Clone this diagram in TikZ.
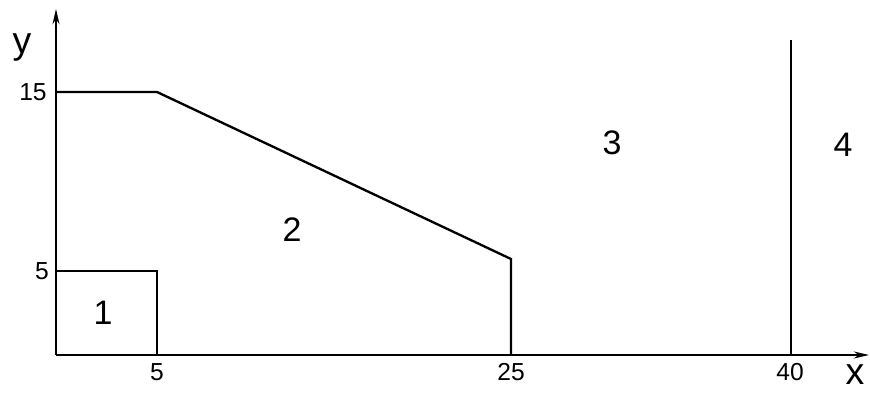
\documentclass[tikz,border=0pt]{standalone}
\usepackage{fontspec}
\setmainfont{Liberation Sans}
\usetikzlibrary{arrows.meta}

\begin{document}
\begin{tikzpicture}[
    x=0.03cm, y=0.03cm,
    every node/.style={inner sep=0pt},
    axis/.style={line width=1.6pt, -{Stealth[length=13pt,width=6pt]}},
    border/.style={line width=2pt},
    ticklabel/.style={font=\fontsize{21}{21}\selectfont},
    zonelabel/.style={font=\fontsize{29}{29}\selectfont},
    axislabel/.style={font=\fontsize{32}{32}\selectfont}
]

\useasboundingbox (0,0) rectangle (870,393);

% Axes
\coordinate (O) at (56,38);
\coordinate (xend) at (869,38);
\coordinate (yend) at (56,384);
\draw[axis] (O) -- (xend);
\draw[axis] (O) -- (yend);
\node[axislabel] (ylab) at (22,346) {y};
\node[axislabel] (xlab) at (855,18) {x};

% Zone borders
\coordinate (c5) at (157,122);
\coordinate (a15) at (157,301);
\coordinate (b25) at (511,134);
\draw[border] (56,122) -- (c5) -- (157,38);
\draw[border] (56,301) -- (a15) -- (b25) -- (511,38);
\draw[border] (791,38) -- (791,353);

% Tick labels
\node[ticklabel] (t15) at (33,301) {15};
\node[ticklabel] (t5y) at (42,122) {5};
\node[ticklabel] (t5x) at (157,21) {5};
\node[ticklabel] (t25) at (511,21) {25};
\node[ticklabel] (t40) at (790,21) {40};

% Zone numbers
\node[zonelabel] (z1) at (103,80) {1};
\node[zonelabel] (z2) at (292,163) {2};
\node[zonelabel] (z3) at (612,250) {3};
\node[zonelabel] (z4) at (843,248) {4};

\end{tikzpicture}
\end{document}
